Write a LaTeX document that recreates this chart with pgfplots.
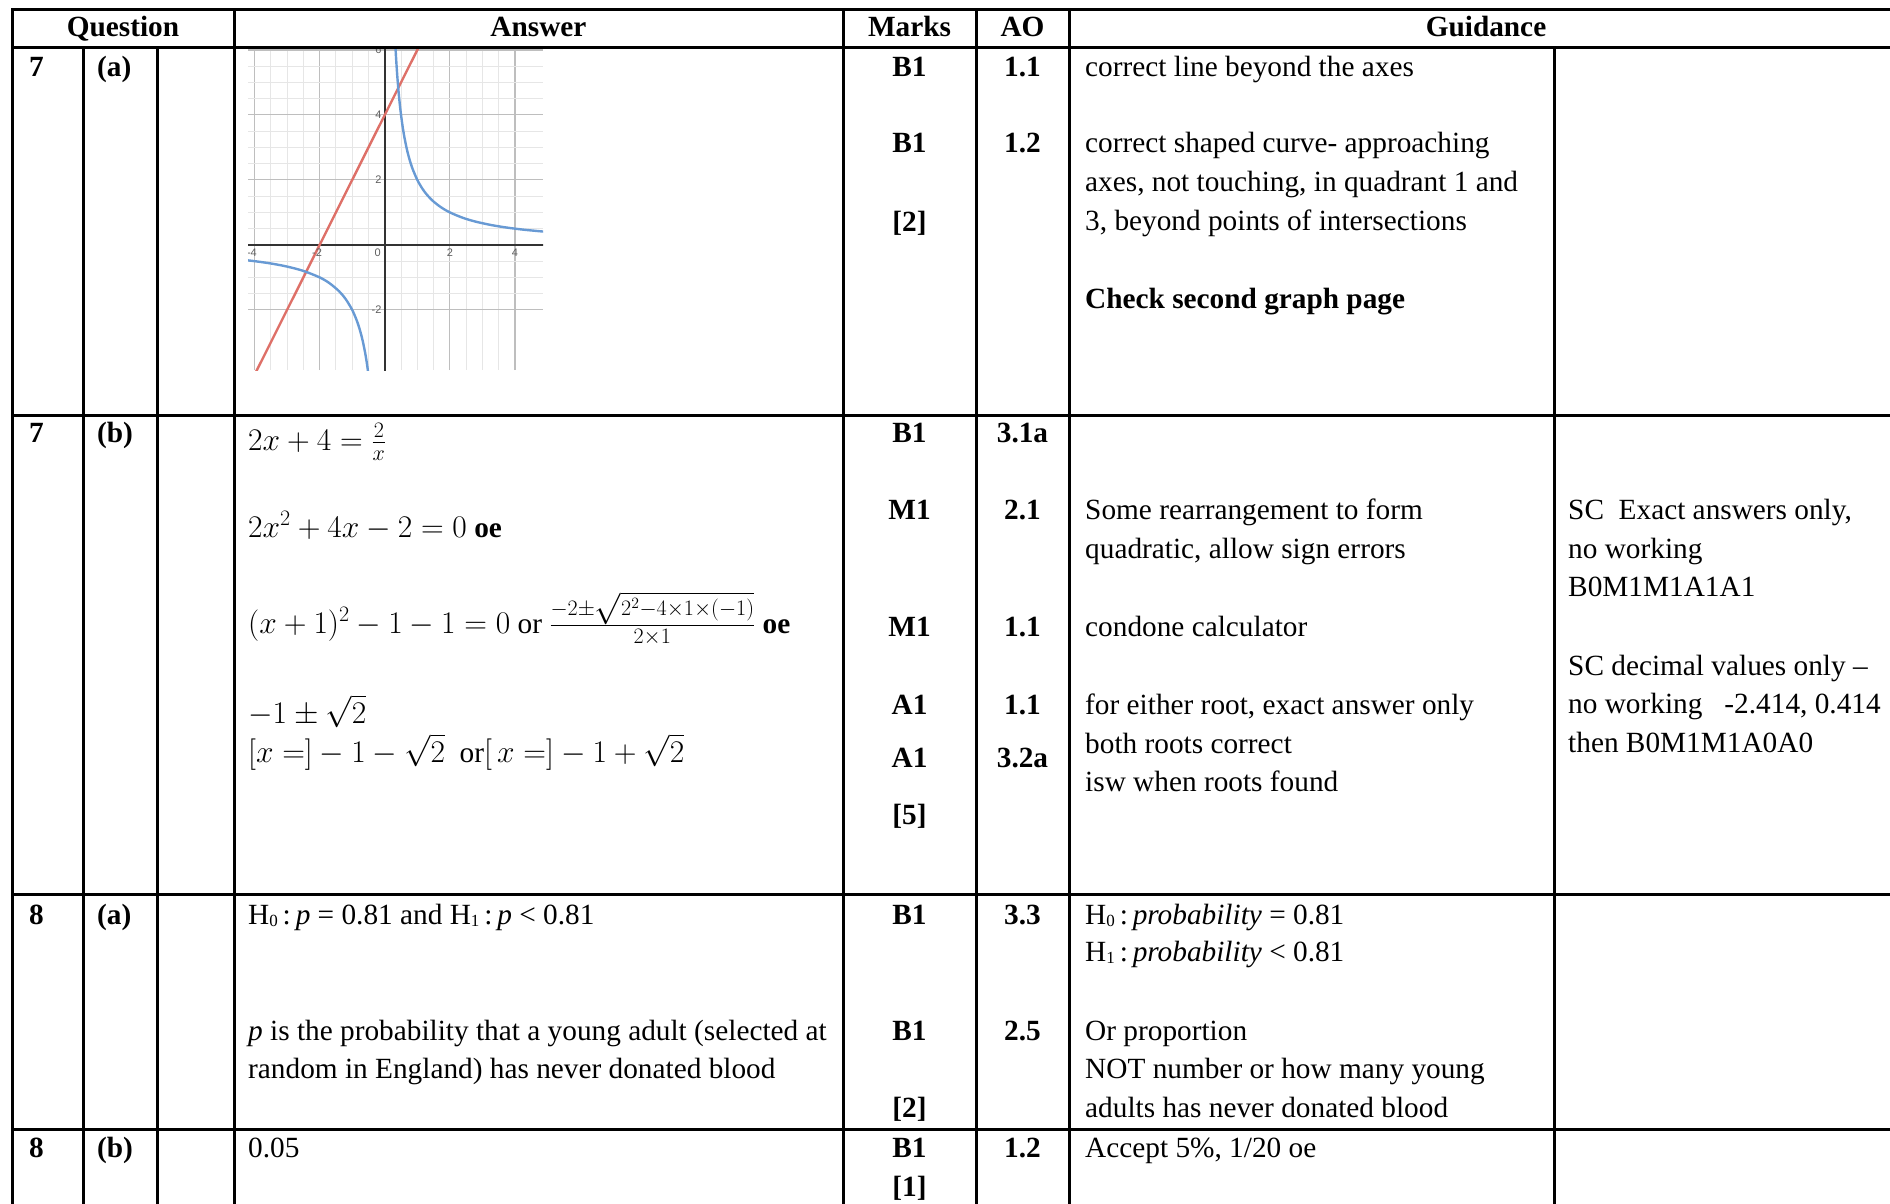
\RequirePackage{fix-cm}
\documentclass[border=0pt]{standalone}
\usepackage{fontspec}
\setmainfont{Liberation Serif}
\newfontfamily\desmos{Liberation Sans}
\usepackage{pgfplots}
\pgfplotsset{compat=1.18}

\definecolor{gline}{RGB}{222,112,104}
\definecolor{gcurve}{RGB}{104,154,212}
\definecolor{gmajor}{RGB}{190,190,190}
\definecolor{gminor}{RGB}{230,230,230}
\definecolor{glabel}{RGB}{95,95,95}

% math a little larger, as Cambria Math is in the reference
\newcommand{\m}[1]{{\fontsize{31.5}{38.6}\selectfont$#1$}}
\newcommand{\sub}[1]{\raisebox{-2.5pt}{\fontsize{17}{17}\selectfont #1}}

\begin{document}
\begin{tikzpicture}[
  t/.style={anchor=base west, inner sep=0pt, font=\fontsize{29.3}{38.6}\selectfont},
  tb/.style={t, font=\fontsize{29.3}{38.6}\selectfont\bfseries},
  tc/.style={anchor=base, inner sep=0pt, font=\fontsize{29.3}{38.6}\selectfont\bfseries},
  lab/.style={inner sep=0.5pt, text=glabel, font=\desmos\fontsize{11}{13}\selectfont},
]

% graph of y = 2x + 4 and y = 2/x
\begin{axis}[
  at={(248pt,-370pt)}, anchor=south west,
  scale only axis, width=295pt, height=322pt,
  xmin=-4.2, xmax=4.86, ymin=-3.85, ymax=6.06,
  axis line style={draw=none},
  xtick={-4,-2,0,2,4}, ytick={-2,0,2,4,6},
  minor x tick num=3, minor y tick num=3,
  grid=both,
  major grid style={gmajor, line width=1.1pt},
  minor grid style={gminor, line width=0.9pt},
  xticklabels={}, yticklabels={},
  tick style={draw=none},
]
\draw[black!80, line width=1.8pt] (axis cs:-5,0) -- (axis cs:5,0);
\draw[black!80, line width=1.8pt] (axis cs:0,-5) -- (axis cs:0,7);
\addplot[gline, line width=2.4pt] coordinates {(-4.3,-4.6) (1.1,6.2)};
\addplot[gcurve, line width=2.4pt, smooth] coordinates {
(0.32,6.25) (0.34,5.882) (0.36,5.556) (0.38,5.263) (0.4,5) (0.43,4.651)
(0.46,4.348) (0.5,4) (0.55,3.636) (0.6,3.333) (0.67,2.985) (0.75,2.667)
(0.85,2.353) (1,2) (1.15,1.739) (1.3,1.538) (1.5,1.333) (1.75,1.143)
(2,1) (2.4,0.833) (2.8,0.714) (3.3,0.606) (3.8,0.526) (4.3,0.465) (4.9,0.408)
};
\addplot[gcurve, line width=2.4pt, smooth] coordinates {
(-4.3,-0.465) (-4,-0.5) (-3.5,-0.571) (-3,-0.667) (-2.5,-0.8) (-2,-1)
(-1.7,-1.176) (-1.4,-1.429) (-1.2,-1.667) (-1,-2) (-0.85,-2.353)
(-0.75,-2.667) (-0.67,-2.985) (-0.6,-3.333) (-0.55,-3.636) (-0.5,-4)
};
\node[lab, anchor=north] at (axis cs:-4.08,-0.1) {-4};
\node[lab, anchor=north] at (axis cs:-2.08,-0.1) {-2};
\node[lab, anchor=north] at (axis cs:2,-0.1) {2};
\node[lab, anchor=north] at (axis cs:4,-0.1) {4};
\node[lab, anchor=north east] at (axis cs:-0.1,-0.1) {0};
\node[lab, anchor=east] at (axis cs:-0.08,-2) {-2};
\node[lab, anchor=east] at (axis cs:-0.08,2) {2};
\node[lab, anchor=east] at (axis cs:-0.08,4) {4};
\node[lab, anchor=east] at (axis cs:-0.08,6) {6};
\end{axis}

\begin{scope}[x=1pt, y=-1pt]
% table rules
\begin{scope}[line width=3pt, line cap=rect]
\draw (12,10) -- (1890,10);
\draw (12,48) -- (1890,48);
\draw (12,415) -- (1890,415);
\draw (12,894) -- (1890,894);
\draw (12,1129) -- (1890,1129);
\foreach \xx in {12,234,843,976,1069} \draw (\xx,10) -- (\xx,1210);
\foreach \xx in {83,157,1554} \draw (\xx,48) -- (\xx,1210);
\end{scope}

% header
\node[tc] at (123,37) {Question};
\node[tc] at (538.5,37) {Answer};
\node[tc] at (909.5,37) {Marks};
\node[tc] at (1022.5,37) {AO};
\node[tc] at (1486,37) {Guidance};

% row 7(a)
\node[tb] at (29,77) {7};
\node[tb] at (97,77) {(a)};
\node[tc] at (909.5,77) {B1};
\node[tc] at (1022.5,77) {1.1};
\node[tc] at (909.5,153) {B1};
\node[tc] at (1022.5,153) {1.2};
\node[tc] at (909.5,231) {[2]};
\node[t] at (1085,77) {correct line beyond the axes};
\node[t] at (1085,153) {correct shaped curve- approaching};
\node[t] at (1085,191.6) {axes, not touching, in quadrant 1 and};
\node[t] at (1085,230.2) {3, beyond points of intersections};
\node[tb] at (1085,308) {Check second graph page};

% row 7(b)
\node[tb] at (29,442) {7};
\node[tb] at (97,442) {(b)};
\node[t] at (248,450) {\m{2x+4=\frac{2}{x}}};
\node[t] at (248,537) {\m{2x^2+4x-2=0} \textbf{oe}};
\node[t] at (248,633) {\m{(x+1)^2-1-1=0} or \m{\frac{-2\pm\sqrt{2^2-4\times1\times(-1)}}{2\times1}} \textbf{oe}};
\node[t] at (248,723) {\m{-1\pm\sqrt{2}}};
\node[t] at (248,762) {\m{[x=]-1-\sqrt{2}}\ \ or\m{[\,x=]-1+\sqrt{2}}};
\node[tc] at (909.5,442) {B1};
\node[tc] at (1022.5,442) {3.1a};
\node[tc] at (909.5,519) {M1};
\node[tc] at (1022.5,519) {2.1};
\node[tc] at (909.5,636) {M1};
\node[tc] at (1022.5,636) {1.1};
\node[tc] at (909.5,714) {A1};
\node[tc] at (1022.5,714) {1.1};
\node[tc] at (909.5,767) {A1};
\node[tc] at (1022.5,767) {3.2a};
\node[tc] at (909.5,824) {[5]};
\node[t] at (1085,519) {Some rearrangement to form};
\node[t] at (1085,558) {quadratic, allow sign errors};
\node[t] at (1085,636) {condone calculator};
\node[t] at (1085,714) {for either root, exact answer only};
\node[t] at (1085,753) {both roots correct};
\node[t] at (1085,791) {isw when roots found};
\node[t] at (1568,519) {SC\ \ Exact answers only,};
\node[t] at (1568,558) {no working};
\node[t] at (1568,596) {B0M1M1A1A1};
\node[t] at (1568,675) {SC decimal values only --};
\node[t] at (1568,713) {no working\ \ \ -2.414, 0.414};
\node[t] at (1568,752) {then B0M1M1A0A0};

% row 8(a)
\node[tb] at (29,924) {8};
\node[tb] at (97,924) {(a)};
\node[t] at (248,924) {H\sub{0}\,:\,\textit{p} = 0.81 and H\sub{1}\,:\,\textit{p} < 0.81};
\node[t] at (248,1040) {\textit{p} is the probability that a young adult (selected at};
\node[t] at (248,1078) {random in England) has never donated blood};
\node[tc] at (909.5,924) {B1};
\node[tc] at (1022.5,924) {3.3};
\node[tc] at (909.5,1040) {B1};
\node[tc] at (1022.5,1040) {2.5};
\node[tc] at (909.5,1117) {[2]};
\node[t] at (1085,924) {H\sub{0}\,:\,\textit{probability} = 0.81};
\node[t] at (1085,961) {H\sub{1}\,:\,\textit{probability} < 0.81};
\node[t] at (1085,1040) {Or proportion};
\node[t] at (1085,1078) {NOT number or how many young};
\node[t] at (1085,1117) {adults has never donated blood};

% row 8(b)
\node[tb] at (29,1157) {8};
\node[tb] at (97,1157) {(b)};
\node[t] at (248,1157) {0.05};
\node[tc] at (909.5,1157) {B1};
\node[tc] at (1022.5,1157) {1.2};
\node[tc] at (909.5,1196) {[1]};
\node[t] at (1085,1157) {Accept 5\%, 1/20 oe};
\end{scope}

\pgfresetboundingbox
\path[use as bounding box] (0pt,0pt) rectangle (1890pt,-1204pt);
\end{tikzpicture}
\end{document}
